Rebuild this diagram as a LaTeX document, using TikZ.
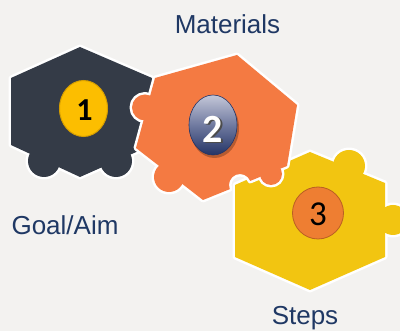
\documentclass[tikz,border=0pt]{standalone}
\usepackage{fontspec}
\setmainfont{Liberation Sans}
\newfontfamily\calib{Carlito}
\usetikzlibrary{shapes.geometric}
\definecolor{bgc}{RGB}{243,242,240}
\definecolor{darkp}{RGB}{52,59,71}
\definecolor{orangep}{RGB}{244,122,66}
\definecolor{yellowp}{RGB}{242,197,17}
\definecolor{goldb}{RGB}{252,190,0}
\definecolor{goldrim}{RGB}{214,158,0}
\definecolor{orb}{RGB}{238,126,50}
\definecolor{orrim}{RGB}{185,95,35}
\definecolor{navyt}{RGB}{31,56,100}
\definecolor{bluetop}{RGB}{196,199,216}
\definecolor{bluemid}{RGB}{112,122,160}
\definecolor{bluebot}{RGB}{36,52,102}
\begin{document}
\begin{tikzpicture}[x=1pt,y=-1pt,
  outl/.style={draw=white,line width=5pt,line join=round},
  lbl/.style={font=\fontsize{26}{30}\selectfont, text=navyt, anchor=base, inner sep=0pt},
  badge/.style={ellipse, inner sep=0pt}]
\useasboundingbox (0,0) rectangle (400,331);
\fill[bgc] (0,0) rectangle (400,331);
% dark piece
\def\darkpoly{(80,47) -- (152,78) -- (152,145) -- (80,177) -- (11,145) -- (11,78) -- cycle}
\def\darkknobs{(44,161) circle (16) (116,161) circle (16)}
\path[outl] \darkpoly; \path[outl] \darkknobs;
\fill[darkp] \darkpoly; \fill[darkp] \darkknobs;
% yellow piece
\def\yelpoly{(310,152) -- (385,183) -- (385,257) -- (310,290) -- (235,257) -- (235,185) -- cycle}
\def\yelknobs{(349,166) circle (16) (393,220) circle (15)}
\path[outl] \yelpoly; \path[outl] \yelknobs;
\fill[yellowp] \yelpoly; \fill[yellowp] \yelknobs;
% orange piece
\def\orpoly{(155,78) -- (237,55) -- (297,105) -- (287,166) -- (250.2,180.9) arc[start angle=-22, end angle=-202, radius=11] -- (203,200) -- (136,148) -- cycle}
\def\orknobs{(145,107.5) circle (13) (169,177) circle (15) (271,174) circle (11)}
\path[outl] \orpoly; \path[outl] \orknobs;
\fill[orangep] \orpoly; \fill[orangep] \orknobs;
% badge 1
\node[badge, draw=goldrim, line width=1pt, fill=goldb, minimum width=48pt, minimum height=56pt] (b1) at (83.5,108.5) {};
\node[font=\calib\bfseries\fontsize{32}{32}\selectfont, inner sep=0pt] (t1) at (84.5,110) {1};
% badge 2
\node[badge, fill=black, opacity=0.25, minimum width=49pt, minimum height=60pt] (b2s) at (214.5,128) {};
\node[badge, top color=bluetop, bottom color=bluebot, middle color=bluemid, draw=bluebot, line width=0.6pt, minimum width=48pt, minimum height=60pt] (b2) at (213,125) {};
\node[font=\calib\bfseries\fontsize{40}{40}\selectfont, text=black!70, inner sep=0pt] (t2s) at (214.3,130.3) {2};
\node[font=\calib\bfseries\fontsize{40}{40}\selectfont, text=white, inner sep=0pt] (t2) at (213,129) {2};
% badge 3
\node[badge, fill=orb, draw=orrim, line width=0.8pt, minimum width=51pt, minimum height=52pt] (b3) at (318,213) {};
\node[font=\calib\fontsize{35}{35}\selectfont, inner sep=0pt] (t3) at (318,214) {3};
% labels
\node[lbl] (lm) at (227.5,33.3) {Materials};
\node[lbl] (lg) at (65,235) {Goal/Aim};
\node[lbl] (ls) at (305,325) {Steps};
\end{tikzpicture}
\end{document}
